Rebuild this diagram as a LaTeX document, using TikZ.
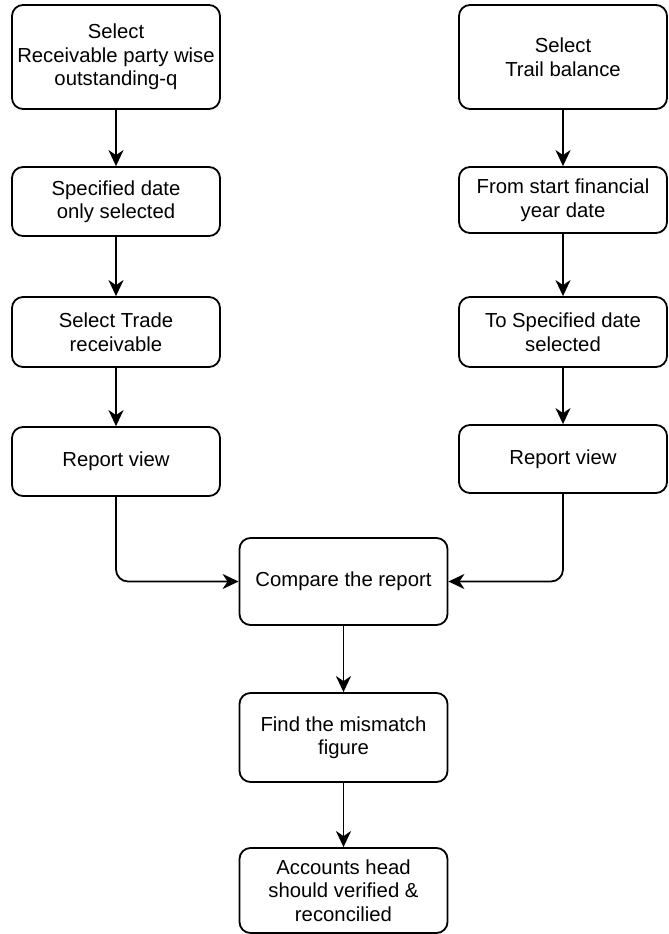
\documentclass[tikz,border=0pt]{standalone}
\usepackage{fontspec}
\setmainfont{Liberation Sans}
\usetikzlibrary{arrows.meta}
\begin{document}
\begin{tikzpicture}[x=1pt,y=-1pt,
  box/.style={draw, line width=1.8pt, rounded corners=11pt, minimum width=208pt,
    inner sep=0pt, align=center, font=\fontsize{20.3}{23.5}\selectfont},
  conn/.style={draw, line width=1.8pt, rounded corners=12pt, -{Stealth[length=16pt,width=15pt,inset=5pt]}}]
\useasboundingbox (0,0) rectangle (669,934);
\node[box, minimum height=104pt] (l1) at (116,57) {Select\\Receivable party wise\\outstanding-q};
\node[box, minimum height=69pt] (l2) at (116,201.5) {Specified date\\only selected};
\node[box, minimum height=70pt] (l3) at (116,332) {Select Trade\\receivable};
\node[box, minimum height=69pt] (l4) at (116,461.5) {Report view};
\node[box, minimum height=104pt] (r1) at (563,57) {Select\\Trail balance};
\node[box, minimum height=66pt] (r2) at (563,200) {From start financial\\year date};
\node[box, minimum height=70pt] (r3) at (563,332) {To Specified date\\selected};
\node[box, minimum height=68pt] (r4) at (563,459) {Report view};
\node[box, minimum height=87pt] (c) at (343.5,581.5) {Compare the report};
\node[box, minimum height=89pt] (f) at (343.5,737.5) {Find the mismatch\\figure};
\node[box, minimum height=85pt] (a) at (343.5,890.5) {Accounts head\\should verified \&\\reconcilied};
\draw[conn] (l1) -- (l2);
\draw[conn] (l2) -- (l3);
\draw[conn] (l3) -- (l4);
\draw[conn] (r1) -- (r2);
\draw[conn] (r2) -- (r3);
\draw[conn] (r3) -- (r4);
\draw[conn] (l4.south) |- (c.west);
\draw[conn] (r4.south) |- (c.east);
\draw[conn] (c) -- (f);
\draw[conn] (f) -- (a);
\end{tikzpicture}
\end{document}
